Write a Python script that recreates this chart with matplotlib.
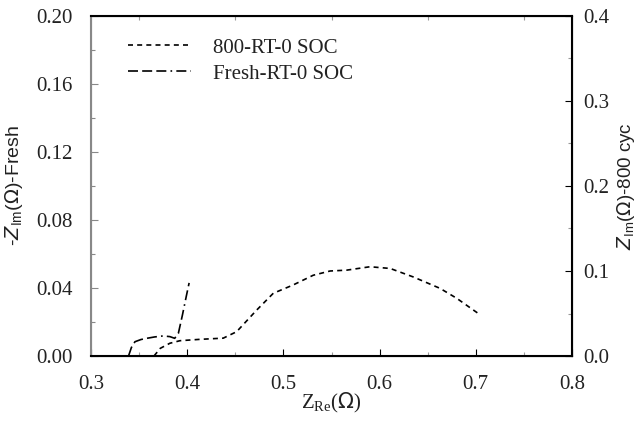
import matplotlib
matplotlib.use("Agg")
import matplotlib.pyplot as plt
from matplotlib.ticker import MultipleLocator, FormatStrFormatter

fresh_x = [0.339, 0.342, 0.3457, 0.352, 0.358, 0.366, 0.375, 0.382, 0.387, 0.3908, 0.395, 0.399, 0.402]
fresh_y = [0.000, 0.005, 0.0084, 0.0097, 0.0104, 0.0112, 0.0118, 0.0114, 0.0104, 0.0133, 0.024, 0.035, 0.043]

c800_x = [0.3655, 0.372, 0.382, 0.3925, 0.4133, 0.4375, 0.4514, 0.4722, 0.4895, 0.510, 0.531, 0.5485, 0.5658, 0.59, 0.611, 0.635, 0.6628, 0.680, 0.7026]
c800_y = [0.000, 0.009, 0.015, 0.018, 0.0196, 0.021, 0.0286, 0.054, 0.0738, 0.0835, 0.095, 0.100, 0.101, 0.105, 0.103, 0.093, 0.0796, 0.068, 0.050]

fig = plt.figure(figsize=(6.37, 4.21), dpi=100)
ax = fig.add_axes([91/637, 1-356/421, (572-91)/637, (356-16)/421])
ax2 = ax.twinx()

serif = ['Liberation Serif', 'DejaVu Serif']
sans = ['Liberation Sans', 'DejaVu Sans']

l2, = ax2.plot(c800_x, c800_y, color='black', lw=1.2, dashes=(3, 2.5), label='800-RT-0 SOC')
l1, = ax.plot(fresh_x, fresh_y, color='black', lw=1.2, dashes=(6, 2.5, 6, 2.5, 6, 2.5, 1, 2.5), label='Fresh-RT-0 SOC')

ax.set_xlim(0.3, 0.8)
ax.set_ylim(0, 0.2)
ax2.set_ylim(0, 0.4)

ax.xaxis.set_major_locator(MultipleLocator(0.1))
ax.xaxis.set_minor_locator(MultipleLocator(0.05))
ax.yaxis.set_major_locator(MultipleLocator(0.04))
ax.yaxis.set_minor_locator(MultipleLocator(0.02))
ax2.yaxis.set_major_locator(MultipleLocator(0.1))
ax2.yaxis.set_minor_locator(MultipleLocator(0.05))
ax.xaxis.set_major_formatter(FormatStrFormatter('%.1f'))
ax.yaxis.set_major_formatter(FormatStrFormatter('%.2f'))
ax2.yaxis.set_major_formatter(FormatStrFormatter('%.1f'))

for a in (ax, ax2):
    a.tick_params(which='both', direction='in', labelsize=15, width=0.8)
    a.tick_params(which='major', length=5)
    a.tick_params(which='minor', length=3, color='#999999')
    for lab in a.get_xticklabels() + a.get_yticklabels():
        lab.set_family(serif)
ax.tick_params(axis='x', which='both', top=True, pad=14)
ax.tick_params(axis='x', which='major', top=False)
ax.tick_params(axis='y', which='both', colors='#888888', labelcolor='#222222', pad=13)
ax2.tick_params(axis='y', labelcolor='#222222', pad=8)
ax.tick_params(axis='x', labelcolor='#222222')

ax.spines['left'].set_color('#888888')
ax2.spines['left'].set_color('#888888')
for s in ('top', 'bottom', 'right'):
    ax2.spines[s].set_color('black')
    ax2.spines[s].set_linewidth(1.5)
ax2.spines['left'].set_linewidth(1.5)

ax.set_xlabel(r'Z$_{\mathregular{Re}}$($\Omega$)', fontsize=15, family=serif, color='#222222')
ax.xaxis.set_label_coords(0.5, -0.103)
ax.set_ylabel(r'-$\mathit{Z}$$_{\mathregular{Im}}$($\Omega$)-Fresh', fontsize=14, family=sans, color='#222222')
ax.yaxis.set_label_coords(-0.137, 0.5)
ax2.set_ylabel(r'$\mathit{Z}$$_{\mathregular{Im}}$($\Omega$)-800 cyc', fontsize=13.5, family=sans, color='#222222')
ax2.yaxis.set_label_coords(1.09, 0.5)

leg = ax.legend([l2, l1], ['800-RT-0 SOC', 'Fresh-RT-0 SOC'], loc='upper left',
                bbox_to_anchor=(0.038, 0.99), frameon=False, handlelength=3.0,
                handletextpad=1.1, prop={'family': serif, 'size': 15}, labelspacing=0.3)
for t in leg.get_texts():
    t.set_color('#222222')

fig.savefig('out.png', dpi=100)
